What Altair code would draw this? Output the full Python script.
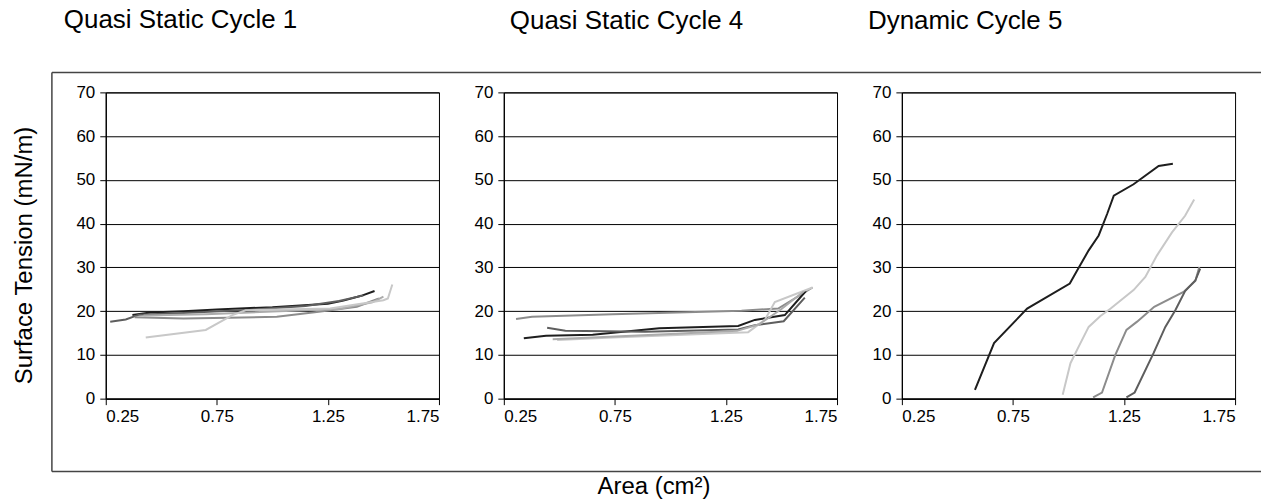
import altair as alt
import pandas as pd

# ---------------- data ----------------
titles = ["Quasi Static Cycle 1", "Quasi Static Cycle 4", "Dynamic Cycle 5"]
x_ticks = [0.25, 0.75, 1.25, 1.75]
y_ticks = [0, 10, 20, 30, 40, 50, 60, 70]

# Panel 1 - Quasi Static Cycle 1
p1_black_x = [0.37, 0.45, 0.60, 0.75, 1.00, 1.25, 1.32, 1.40, 1.46]
p1_black_y = [19.1, 19.7, 20.0, 20.4, 20.9, 21.7, 22.4, 23.5, 24.6]
p1_dark_x = [0.27, 0.34, 0.40, 0.60, 0.90, 1.15, 1.30, 1.41]
p1_dark_y = [17.6, 18.1, 19.2, 19.6, 20.3, 21.2, 22.3, 23.6]
p1_mid_x = [0.38, 0.60, 0.80, 1.02, 1.20, 1.38, 1.48]
p1_mid_y = [18.6, 18.3, 18.5, 18.7, 19.8, 21.0, 22.9]
p1_light_x = [0.42, 0.70, 1.00, 1.30, 1.45, 1.50]
p1_light_y = [19.0, 19.3, 19.9, 20.5, 22.0, 23.3]
p1_pale_x = [0.43, 0.70, 0.82, 0.88, 1.26, 1.50, 1.52, 1.54]
p1_pale_y = [14.0, 15.7, 19.1, 20.2, 20.6, 22.5, 22.9, 26.1]

# Panel 2 - Quasi Static Cycle 4
p2_mid_x = [0.305, 0.377, 0.74, 1.32, 1.485, 1.64]
p2_mid_y = [18.2, 18.7, 19.3, 20.1, 20.6, 25.4]
p2_black_x = [0.34, 0.44, 0.65, 0.95, 1.305, 1.38, 1.515, 1.61]
p2_black_y = [13.8, 14.4, 14.6, 16.1, 16.6, 18.0, 19.1, 24.6]
p2_dark_x = [0.445, 0.527, 0.886, 1.305, 1.38, 1.51, 1.605]
p2_dark_y = [16.2, 15.5, 15.3, 15.8, 16.8, 17.7, 23.1]
p2_pale_x = [0.49, 0.74, 1.35, 1.425, 1.47, 1.64]
p2_pale_y = [13.4, 14.0, 15.2, 18.0, 22.1, 25.4]
p2_light_x = [0.47, 0.75, 1.00, 1.30, 1.40, 1.50, 1.60]
p2_light_y = [13.6, 14.2, 14.8, 15.5, 17.0, 20.5, 24.5]

# Panel 3 - Dynamic Cycle 5
p3_black_x = [0.579, 0.665, 0.814, 1.006, 1.039, 1.091, 1.136, 1.174, 1.204, 1.293, 1.406, 1.47]
p3_black_y = [2.0, 12.7, 20.6, 26.3, 29.3, 33.9, 37.3, 42.2, 46.4, 49.0, 53.2, 53.7]
p3_pale_x = [0.974, 1.009, 1.042, 1.091, 1.144, 1.19, 1.293, 1.346, 1.398, 1.466, 1.525, 1.566]
p3_pale_y = [0.9, 8.1, 11.5, 16.4, 18.9, 20.6, 24.8, 27.8, 32.7, 38.0, 41.8, 45.5]
p3_mid_x = [1.111, 1.151, 1.211, 1.261, 1.309, 1.386, 1.518, 1.571, 1.589]
p3_mid_y = [0.3, 1.4, 10.0, 15.7, 17.6, 21.0, 24.4, 26.9, 30.1]
p3_dark_x = [1.261, 1.298, 1.383, 1.436, 1.481, 1.525, 1.571, 1.593]
p3_dark_y = [0.3, 1.4, 10.4, 16.4, 20.2, 24.6, 27.0, 29.7]

series_names = ["black", "dark", "mid", "light", "pale"]
series_colors = ["#1e1e1e", "#5e5e5e", "#8c8c8c", "#ababab", "#c8c8c8"]

# ---------------- build tables ----------------
def rows(name, xs, ys):
    return [{"series": name, "x": a, "y": b, "i": k} for k, (a, b) in enumerate(zip(xs, ys))]

df1 = pd.DataFrame(rows("black", p1_black_x, p1_black_y) + rows("dark", p1_dark_x, p1_dark_y)
                   + rows("mid", p1_mid_x, p1_mid_y) + rows("light", p1_light_x, p1_light_y)
                   + rows("pale", p1_pale_x, p1_pale_y))
df2 = pd.DataFrame(rows("mid", p2_mid_x, p2_mid_y) + rows("black", p2_black_x, p2_black_y)
                   + rows("dark", p2_dark_x, p2_dark_y) + rows("pale", p2_pale_x, p2_pale_y)
                   + rows("light", p2_light_x, p2_light_y))
df3 = pd.DataFrame(rows("black", p3_black_x, p3_black_y) + rows("pale", p3_pale_x, p3_pale_y)
                   + rows("mid", p3_mid_x, p3_mid_y) + rows("dark", p3_dark_x, p3_dark_y))

FONT = "Liberation Sans"
W, H = 334, 307


def panel(df, title, dx, offset, ytitle=None, xtitle=None):
    yaxis_kw = dict(values=y_ticks, grid=True, tickSize=6, labelPadding=5)
    if ytitle:
        yaxis_kw.update(title=ytitle, titlePadding=40, titleFontSize=24, titleFont=FONT,
                        titleFontWeight="normal", titleY=163)
    else:
        yaxis_kw.update(title=None)
    xaxis_kw = dict(values=x_ticks, format=".2f", grid=False, tickSize=6, labelPadding=4)
    if xtitle:
        xaxis_kw.update(title=xtitle, titleFontSize=24, titleFont=FONT, titleFontWeight="normal",
                        titleX=150, titleY=76, titleBaseline="top")
    else:
        xaxis_kw.update(title=None)
    lines = alt.Chart(df).mark_line(strokeWidth=2, clip=True).encode(
        x=alt.X("x:Q", scale=alt.Scale(domain=[0.25, 1.75], nice=False, zero=False),
                axis=alt.Axis(**xaxis_kw)),
        y=alt.Y("y:Q", scale=alt.Scale(domain=[0, 70], nice=False), axis=alt.Axis(**yaxis_kw)),
        color=alt.Color("series:N", scale=alt.Scale(domain=series_names, range=series_colors),
                        legend=None),
        detail="series:N",
        order="i:Q",
    )
    return lines.properties(
        width=W, height=H,
        title=alt.TitleParams(title, anchor="start", frame="group", dx=dx, offset=offset,
                              baseline="alphabetic", fontSize=26, font=FONT,
                              fontWeight="normal", color="black"),
    )


one = pd.DataFrame({"k": [0]})
frame_top = alt.Chart(one).mark_rule(color="#444", strokeWidth=1.5).encode(
    x=alt.value(-54), x2=alt.value(1158), y=alt.value(-20))
frame_left = alt.Chart(one).mark_rule(color="#444", strokeWidth=1.5).encode(
    x=alt.value(-54), y=alt.value(-20), y2=alt.value(380))
frame_bottom = alt.Chart(one).mark_rule(color="#444", strokeWidth=1.5).encode(
    x=alt.value(-54), x2=alt.value(1158), y=alt.value(380))

c1 = alt.layer(panel(df1, titles[0], -42, 18, ytitle="Surface Tension (mN/m)"),
               frame_top, frame_left, frame_bottom)
c2 = panel(df2, titles[1], 6, 29, xtitle="Area (cm²)")
c3 = panel(df3, titles[2], -34, 29)

chart = alt.hconcat(c1, c2, c3, spacing=65, bounds="flush").properties(
    padding={"left": 3, "top": -3, "right": 0, "bottom": 0}
).configure_view(
    stroke="black", strokeWidth=1
).configure_axis(
    domainColor="black", tickColor="black", gridColor="black", gridWidth=1,
    labelColor="black", labelFont=FONT, labelFontSize=17, domainWidth=1.2,
    titleColor="black",
)

chart.save("out.html", embed_options={"renderer": "svg", "actions": False})
